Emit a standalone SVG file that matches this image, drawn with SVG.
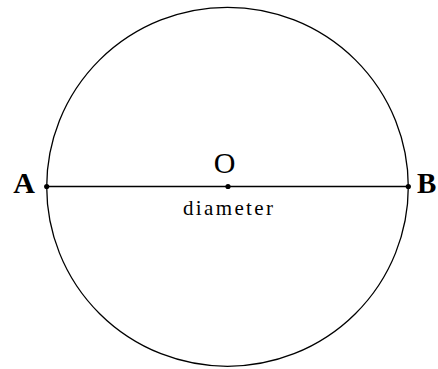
<svg xmlns="http://www.w3.org/2000/svg" width="438" height="369" viewBox="0 0 438 369">
<style>
.ln{fill:none;stroke:#000;stroke-width:1.3}
.dot{fill:#000}
.lbl{font-family:"Liberation Serif","Times New Roman",serif;fill:#000}
</style>
<rect width="438" height="369" fill="#fff"/>
<g id="circle"><ellipse class="ln" cx="227.5" cy="186.8" rx="180.8" ry="179.5"/></g>
<g id="connectors"><line class="ln" x1="46.7" y1="186.5" x2="408.3" y2="186.5"/></g>
<g id="A"><circle class="dot" cx="46.7" cy="186.5" r="2.6"/><text class="lbl" x="24" y="192.5" font-size="30" font-weight="bold" text-anchor="middle">A</text></g>
<g id="O"><circle class="dot" cx="228" cy="186.5" r="2.6"/><text class="lbl" x="224.5" y="172.5" font-size="30" text-anchor="middle">O</text></g>
<g id="B"><circle class="dot" cx="408.3" cy="186.5" r="2.6"/><text class="lbl" x="417" y="192.5" font-size="29" font-weight="bold">B</text></g>
<g id="diameter"><text class="lbl" x="183" y="215" font-size="21" textLength="90" lengthAdjust="spacing">diameter</text></g>
</svg>
